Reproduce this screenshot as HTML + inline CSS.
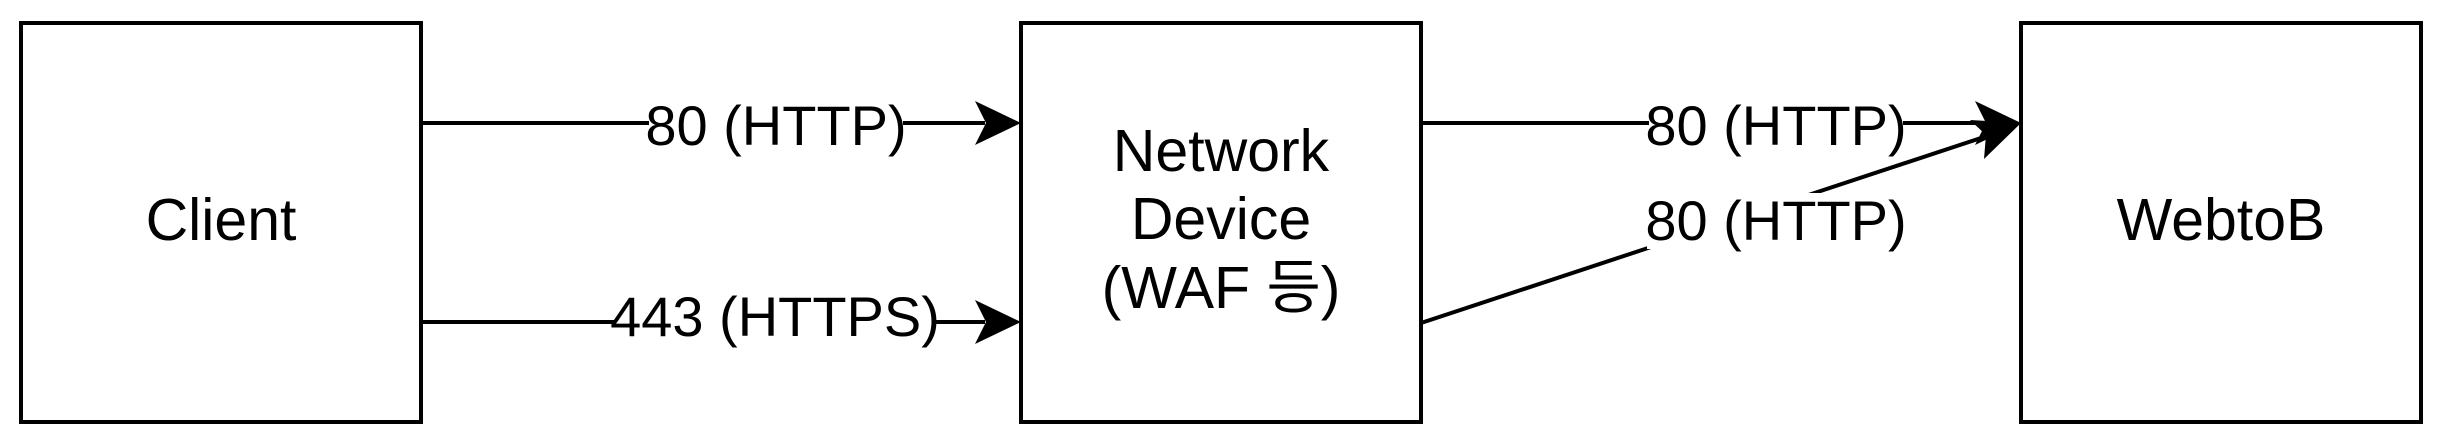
<!DOCTYPE html>
<html><head><meta charset="utf-8"><style>
html,body{margin:0;padding:0;background:#fff;width:2447px;height:447px;overflow:hidden}
svg{display:block}
text{font-family:"Liberation Sans","Noto Sans CJK KR",sans-serif;font-size:56px;fill:#000}
.big{font-size:59px}
</style></head><body>
<svg width="2447" height="447" viewBox="0 0 2447 447" xmlns="http://www.w3.org/2000/svg">
<g fill="none" stroke="#000" stroke-width="4">
<rect x="21" y="23" width="400" height="399"/>
<rect x="1021" y="23" width="400" height="399"/>
<rect x="2021" y="23" width="400" height="399"/>
<line x1="421" y1="123" x2="985" y2="123"/>
<line x1="421" y1="322" x2="985" y2="322"/>
<line x1="1421" y1="123" x2="1985" y2="123"/>
<line x1="1421" y1="323" x2="1987" y2="136"/>
</g>
<g fill="#000">
<path d="M1021,123 L975,101 L986,123 L975,145 Z"/>
<path d="M1021,322 L975,300 L986,322 L975,344 Z"/>
<path d="M2021,123 L1975,101 L1986,123 L1975,145 Z"/>
<path d="M2021,123 L1970,120 L1986,135 L1984,159 Z"/>
</g>
<g fill="#fff">
<rect x="649" y="99" width="254" height="56"/>
<rect x="614" y="297" width="322" height="56"/>
<rect x="1649" y="99" width="254" height="56"/>
<rect x="1647" y="193" width="256" height="56"/>
</g>
<text x="776" y="145" text-anchor="middle">80 (HTTP)</text>
<text x="775" y="336" text-anchor="middle">443 (HTTPS)</text>
<text x="1776" y="145" text-anchor="middle">80 (HTTP)</text>
<text x="1776" y="240" text-anchor="middle">80 (HTTP)</text>
<text x="221" y="240" text-anchor="middle" class="big">Client</text>
<text x="1221" y="171" text-anchor="middle" class="big">Network</text>
<text x="1221" y="239" text-anchor="middle" class="big">Device</text>
<text x="1221" y="308" text-anchor="middle" class="big">(WAF 등)</text>
<text x="2221" y="240" text-anchor="middle" class="big">WebtoB</text>
</svg>
</body></html>
